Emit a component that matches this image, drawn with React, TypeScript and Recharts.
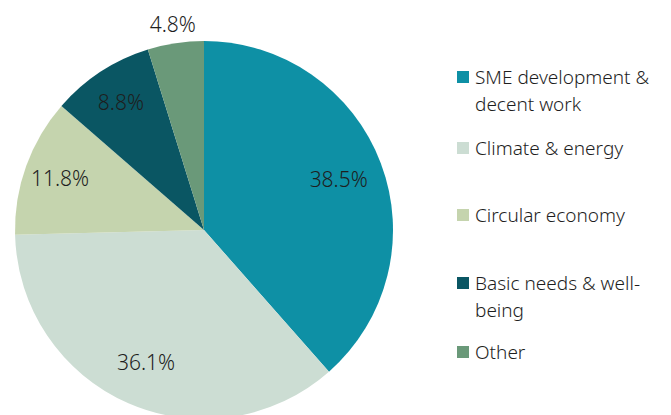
import { PieChart, Pie, Cell } from "recharts";

const categorias = [
  "SME development & decent work",
  "Climate & energy",
  "Circular economy",
  "Basic needs & well-being",
  "Other",
];
const porcentajes = [38.5, 36.1, 11.8, 8.8, 4.8];
const colores = ["#0e90a5", "#ccddd3", "#c5d4ae", "#0a5663", "#6a9979"];

// distancia de cada etiqueta al centro
const radiosEtiqueta = [144, 145, 153, 152, 208];
// líneas de texto y posición vertical de cada fila de la leyenda
const lineasLeyenda = [
  ["SME development &", "decent work"],
  ["Climate & energy"],
  ["Circular economy"],
  ["Basic needs & well-", "being"],
  ["Other"],
];
const topLeyenda = [64, 135, 202, 270, 339];

const FUENTE = "'Noto Sans', sans-serif";
const RADIAN = Math.PI / 180;

const data = categorias.map((nombre, i) => ({ nombre, valor: porcentajes[i] }));

function Etiqueta(props: any) {
  const { cx, cy, midAngle, index } = props;
  const r = radiosEtiqueta[index];
  const x = cx + r * Math.cos(-midAngle * RADIAN);
  const y = cy + r * Math.sin(-midAngle * RADIAN);
  return (
    <text
      x={x}
      y={y + 7.5}
      textAnchor="middle"
      fill="#1e1e1e"
      fontSize={21}
      fontWeight={300}
      fontFamily={FUENTE}
    >
      {`${porcentajes[index].toFixed(1)}%`}
    </text>
  );
}

export default function App() {
  return (
    <div
      style={{
        position: "absolute",
        top: 0,
        left: 0,
        width: 671,
        height: 415,
        background: "#fff",
        overflow: "hidden",
      }}
    >
      <PieChart
        width={671}
        height={415}
        margin={{ top: 0, right: 0, bottom: 0, left: 0 }}
      >
        <Pie
          data={data}
          dataKey="valor"
          nameKey="nombre"
          cx={204}
          cy={230}
          outerRadius={189}
          startAngle={90}
          endAngle={-270}
          stroke="none"
          labelLine={false}
          label={Etiqueta}
          isAnimationActive={false}
        >
          {data.map((d, i) => (
            <Cell key={d.nombre} fill={colores[i]} />
          ))}
        </Pie>
      </PieChart>

      {categorias.map((c, i) => (
        <div
          key={c}
          style={{
            position: "absolute",
            left: 457,
            top: topLeyenda[i],
            fontFamily: FUENTE,
            fontSize: 19,
            fontWeight: 300,
            lineHeight: "27px",
            color: "#1e1e1e",
          }}
        >
          <span
            style={{
              position: "absolute",
              left: 0,
              top: 7,
              width: 12,
              height: 12,
              background: colores[i],
            }}
          />
          <div style={{ paddingLeft: 18 }}>
            {lineasLeyenda[i].map((l) => (
              <div key={l} style={{ whiteSpace: "nowrap" }}>
                {l}
              </div>
            ))}
          </div>
        </div>
      ))}
    </div>
  );
}
